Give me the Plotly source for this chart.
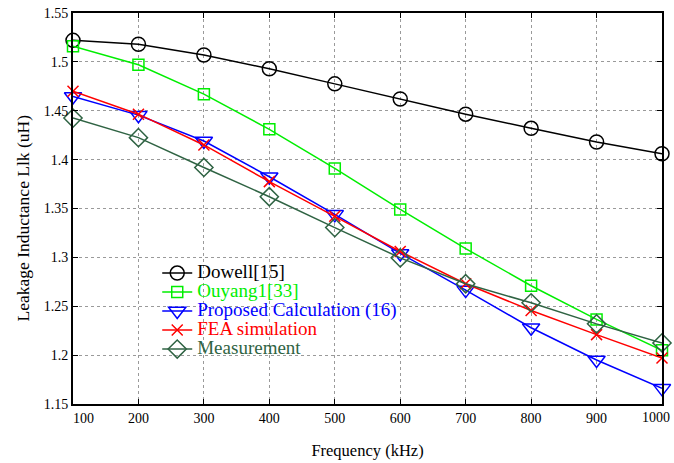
import plotly.graph_objects as go

freq = [100, 200, 300, 400, 500, 600, 700, 800, 900, 1000]
dowell = [1.522, 1.518, 1.507, 1.493, 1.4775, 1.462, 1.4465, 1.432, 1.418, 1.406]
ouyang = [1.516, 1.497, 1.467, 1.431, 1.391, 1.349, 1.309, 1.271, 1.2365, 1.205]
proposed = [1.4645, 1.4455, 1.419, 1.3825, 1.344, 1.304, 1.2665, 1.228, 1.195, 1.166]
fea = [1.470, 1.4465, 1.415, 1.3775, 1.342, 1.306, 1.273, 1.2457, 1.221, 1.197]
measurement = [1.4425, 1.4225, 1.392, 1.362, 1.3305, 1.2995, 1.273, 1.2535, 1.232, 1.2125]

x_ticks = [100, 200, 300, 400, 500, 600, 700, 800, 900, 1000]
x_tick_text = ["100", "200", "300", "400", "500", "600", "700", "800", "900", "1000"]
y_ticks = [1.15, 1.2, 1.25, 1.3, 1.35, 1.4, 1.45, 1.5, 1.55]
y_tick_text = ["1.15", "1.2", "1.25", "1.3", "1.35", "1.4", "1.45", "1.5", "1.55"]

series = [
    ("Dowell[15]", dowell, "#000000", "circle-open", 14),
    ("Ouyang1[33]", ouyang, "#00ee00", "square-open", 11),
    ("Proposed Calculation (16)", proposed, "#0000ff", "triangle-down-open", 15),
    ("FEA simulation", fea, "#ff0000", "x-thin-open", 11),
    ("Measurement", measurement, "#2f6343", "diamond-open", 14),
]

FONT = "Liberation Serif, Times New Roman, serif"
NB = "\u00a0"

# edge tick labels nudged inward like the original figure:
# first one padded on the left, last one drawn right-aligned at the edge tick
tick_text = list(x_tick_text)
tick_text[0] = NB * 6 + tick_text[0]
tick_text[-1] = ""

fig = go.Figure()
for name, vals, color, sym, size in series:
    fig.add_trace(go.Scatter(
        x=freq, y=vals, mode="lines+markers",
        name='<span style="color:%s;font-size:19px">%s</span>' % (color, name),
        line=dict(color=color, width=1.5),
        marker=dict(symbol=sym, size=size, color=color,
                    line=dict(color=color, width=1.5)),
        cliponaxis=False,
    ))

axis_common = dict(
    showline=True, linecolor="black", linewidth=2, mirror="ticks",
    ticks="inside", ticklen=5, tickcolor="black", tickwidth=1,
    showgrid=True, gridcolor="#9a9a9a", gridwidth=1, griddash="dot",
    zeroline=False, automargin=False,
    tickfont=dict(family=FONT, size=14, color="black"),
)

fig.update_layout(
    width=674, height=463,
    margin=dict(l=73, r=12, t=13, b=59),
    paper_bgcolor="white", plot_bgcolor="white",
    font=dict(family=FONT, color="black"),
    showlegend=True,
    legend=dict(
        x=0.143, y=0.372, xanchor="left", yanchor="top",
        bgcolor="rgba(255,255,255,0)", borderwidth=0,
        font=dict(family=FONT, size=12),
        tracegroupgap=0,
    ),
    xaxis=dict(
        range=[100, 1000], tickvals=x_ticks, ticktext=tick_text,
        title=dict(text="Frequency (kHz)", font=dict(family=FONT, size=16.5), standoff=20),
        **axis_common,
    ),
    yaxis=dict(
        range=[1.15, 1.55], tickvals=y_ticks, ticktext=y_tick_text,
        **axis_common,
    ),
    annotations=[
        dict(
            text="Leakage Inductance Llk (uH)", textangle=-90,
            xref="paper", yref="paper", x=0, y=0.5, xanchor="center", yanchor="middle",
            xshift=-51, yshift=-10, showarrow=False,
            font=dict(family=FONT, size=17.5, color="black"),
        ),
        dict(
            text=x_tick_text[-1], xref="x", yref="paper", x=x_ticks[-1], y=0,
            xanchor="right", yanchor="top", xshift=10, yshift=-4, showarrow=False,
            font=dict(family=FONT, size=14, color="black"),
        ),
    ],
)

fig.write_html("out.html", post_script="document.body.style.margin='0';",
               config={"displayModeBar": False})
